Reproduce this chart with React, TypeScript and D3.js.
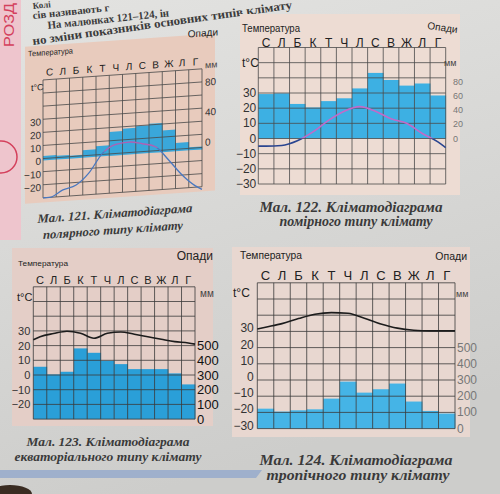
import { useEffect, useRef } from "react";
import * as d3 from "d3";

const months = ["С", "Л", "Б", "К", "Т", "Ч", "Л", "С", "В", "Ж", "Л", "Г"];

// Мал. 121 - polar
const polarTemp = [-30, -25, -22, -13, 1, 7, 8, 6, 3, -8, -20, -29];
const polarTempEnds = [-30, -32];
const polarPrecip = [6, 5, 4, 10, 14, 32, 35, 37, 39, 29, 11, 4];
const polarTempTicks = [30, 20, 10, 0, -10, -20];
const polarPrecipTicks = [0, 40, 80];

// Мал. 122 - temperate
const temperateTemp = [-5, -4.6, -1.5, 4.4, 12, 18, 21, 18, 13, 10, 3.3, -2.2];
const temperateTempEnds = [-5, -6];
const temperatePrecip = [63, 64, 49, 44, 53, 57, 71, 93, 83, 75, 78, 61];
const temperateTempTicks = [30, 20, 10, 0, -10, -20, -30];
const temperatePrecipTicks = [0, 20, 40, 60, 80];

// Мал. 123 - equatorial
const equatorialTemp = [26, 28.2, 29.8, 28.4, 25, 28.4, 29.3, 27.7, 26, 24.3, 22.7, 21.8];
const equatorialTempEnds = [24, 21];
const equatorialPrecip = [356, 304, 322, 481, 451, 397, 374, 340, 340, 340, 311, 236];
const equatorialTempTicks = [30, 20, 10, 0, -10, -20];

// Мал. 124 - tropical
const tropicalTemp = [32.6, 34.8, 37.9, 40.6, 41.6, 41.2, 38.1, 34.6, 32, 30.7, 30.3, 30.3];
const tropicalTempEnds = [31.5, 30.3];
const tropicalPrecip = [123, 105, 113, 119, 185, 290, 222, 243, 278, 167, 109, 93];
const tropicalTempTicks = [30, 20, 10, 0, -10, -20, -30];

const bigPrecipTicks = [0, 100, 200, 300, 400, 500];

const SANS = "Liberation Sans, Arial, sans-serif";
const SERIF = "Liberation Serif, Times New Roman, serif";

const fmt = (v) => (v < 0 ? "\u2212" + Math.abs(v) : String(v));

const label = (g, s, x, y, size, o: any = {}) =>
  g
    .append("text")
    .attr("x", x)
    .attr("y", y)
    .attr("font-family", o.family || SANS)
    .attr("font-size", size)
    .attr("font-weight", o.weight || null)
    .attr("font-style", o.style || null)
    .attr("text-anchor", o.anchor || "start")
    .attr("dominant-baseline", o.baseline || null)
    .attr("fill", o.fill || "#222")
    .attr("transform", o.transform || null)
    .attr("textLength", o.length || null)
    .attr("lengthAdjust", o.length ? "spacingAndGlyphs" : null)
    .text(s);

const drawPanel = (svg, p) => {
  const g = svg.append("g").attr("transform", p.transform || null);

  g.append("rect")
    .attr("x", p.box[0])
    .attr("y", p.box[1])
    .attr("width", p.box[2] - p.box[0])
    .attr("height", p.box[3] - p.box[1])
    .attr("fill", p.boxFill);

  const x = d3.scaleBand().domain(d3.range(12)).range([p.x0, p.x1]);
  const y = d3.scaleLinear().domain([-30, 60]).range([p.yBottom, p.yTop]);
  const yP = d3
    .scaleLinear()
    .domain(p.precipDomain)
    .range([y(p.precipRange[0]), y(p.precipRange[1])]);

  g.selectAll(".bar")
    .data(p.precip)
    .enter()
    .append("rect")
    .attr("x", (d, i) => x(i))
    .attr("width", x.bandwidth() + 0.4)
    .attr("y", (d) => yP(d))
    .attr("height", (d) => yP(0) - yP(d))
    .attr("fill", p.barFill);

  // grid
  g.append("g")
    .selectAll("line")
    .data(d3.range(13))
    .enter()
    .append("line")
    .attr("x1", (i) => p.x0 + i * x.bandwidth())
    .attr("x2", (i) => p.x0 + i * x.bandwidth())
    .attr("y1", p.yTop)
    .attr("y2", p.yBottom)
    .attr("stroke", p.gridColor)
    .attr("stroke-width", 0.8);
  g.append("g")
    .selectAll("line")
    .data(d3.range(-30, 61, 10))
    .enter()
    .append("line")
    .attr("x1", p.x0)
    .attr("x2", p.x1)
    .attr("y1", (d) => y(d))
    .attr("y2", (d) => y(d))
    .attr("stroke", p.gridColor)
    .attr("stroke-width", 0.8);

  // temperature curve
  const xs = [p.x0, ...d3.range(12).map((i) => x(i) + x.bandwidth() / 2), p.x1];
  const ts = [p.tempEnds[0], ...p.temp, p.tempEnds[1]];
  const line = d3
    .line()
    .x((d, i) => xs[i])
    .y((d) => y(d))
    .curve(d3.curveMonotoneX);

  if (p.warmColor) {
    const cut = y(p.warmAbove);
    const defs = g.append("defs");
    defs
      .append("clipPath")
      .attr("id", `warm-${p.id}`)
      .append("rect")
      .attr("x", p.x0 - 10)
      .attr("y", 0)
      .attr("width", p.x1 - p.x0 + 20)
      .attr("height", cut);
    defs
      .append("clipPath")
      .attr("id", `cold-${p.id}`)
      .append("rect")
      .attr("x", p.x0 - 10)
      .attr("y", cut)
      .attr("width", p.x1 - p.x0 + 20)
      .attr("height", 500);
    g.append("path")
      .attr("d", line(ts))
      .attr("fill", "none")
      .attr("stroke", p.warmColor)
      .attr("stroke-width", p.lineWidth)
      .attr("clip-path", `url(#warm-${p.id})`);
    g.append("path")
      .attr("d", line(ts))
      .attr("fill", "none")
      .attr("stroke", p.lineColor)
      .attr("stroke-width", p.lineWidth)
      .attr("clip-path", `url(#cold-${p.id})`);
  } else {
    g.append("path")
      .attr("d", line(ts))
      .attr("fill", "none")
      .attr("stroke", p.lineColor)
      .attr("stroke-width", p.lineWidth);
  }

  // labels
  months.forEach((m, i) =>
    label(g, m, x(i) + x.bandwidth() / 2, p.monthY, p.monthSize, { anchor: "middle" })
  );
  label(g, "Температура", p.tempTitle[0], p.tempTitle[1], p.tempTitle[2], { length: p.tempTitle[3] });
  label(g, "Опади", p.precTitle[0], p.precTitle[1], p.precTitle[2], {
    anchor: "end",
    transform: p.precTitle[3]
      ? `rotate(${p.precTitle[3]},${p.precTitle[0]},${p.precTitle[1]})`
      : null,
  });
  label(g, "t°C", p.unitT[0], p.unitT[1], p.unitT[2]);
  label(g, "мм", p.unitP[0], p.unitP[1], p.unitP[2], { fill: "#444" });

  p.tempTicks.forEach((t) =>
    label(g, fmt(t), p.x0 - p.tickGap, y(t) + p.tickDy, p.tickSize, {
      anchor: "end",
      baseline: "central",
      fill: "#333",
    })
  );
  p.precipTicks.forEach((v) =>
    label(g, String(v), p.pTickX, yP(v) + p.pTickDy, p.pTickSize, {
      baseline: "central",
      fill: p.pTickColor,
    })
  );

  p.caption.forEach((c) =>
    label(g, c[0], c[1], c[2], c[3], {
      family: SERIF,
      weight: "bold",
      style: "italic",
      anchor: "middle",
      fill: "#3a3a3a",
      length: c[4],
    })
  );
};

const App = () => {
  const ref = useRef(null);

  useEffect(() => {
    const svg = d3.select(ref.current);
    svg.selectAll("*").remove();

    const defs = svg.append("defs");
    const grad = defs
      .append("linearGradient")
      .attr("id", "page")
      .attr("x1", 0)
      .attr("y1", 0)
      .attr("x2", 0.3)
      .attr("y2", 1);
    grad.append("stop").attr("offset", 0).attr("stop-color", "#e3e3e1");
    grad.append("stop").attr("offset", 1).attr("stop-color", "#cdcdcb");

    svg.append("rect").attr("width", 500).attr("height", 494).attr("fill", "url(#page)");

    // left section strip
    svg.append("rect").attr("x", 0).attr("y", 0).attr("width", 21).attr("height", 240).attr("fill", "#eec5cd");
    label(svg, "РОЗД", 14, 47, 15, {
      fill: "#d4405c",
      transform: "rotate(-90,14,47)",
      length: 44,
    });
    svg
      .append("circle")
      .attr("cx", 1)
      .attr("cy", 157)
      .attr("r", 16)
      .attr("fill", "none")
      .attr("stroke", "#d4405c")
      .attr("stroke-width", 1.5);

    // page bottom
    svg
      .append("polygon")
      .attr("points", "0,470 262,470 256,478 0,478")
      .attr("fill", "#9fb0cc");
    svg.append("ellipse").attr("cx", 10).attr("cy", 494).attr("rx", 22).attr("ry", 9).attr("fill", "#3a2c22");

    // book text at the top
    const bodyText = [
      ["Колі", 33, 9, 9, 18, -6],
      ["сів називають г", 33, 19, 10.5, 77, -6],
      ["На малюнках 121–124, ін", 48, 29, 11, 122, -6],
      ["но зміни показників основних типів клімату", 33, 45, 12, 262, -8],
    ];
    bodyText.forEach((b) =>
      label(svg, b[0], b[1], b[2], b[3], {
        family: SERIF,
        weight: "bold",
        fill: "#3c3c3c",
        length: b[4],
        transform: `rotate(${b[5]},${b[1]},${b[2]})`,
      })
    );

    drawPanel(svg, {
      id: "polar",
      transform: "translate(122.5,0) skewY(-4) translate(-122.5,0)",
      box: [25, 40, 215, 197],
      boxFill: "#e8cbbd",
      barFill: "#3aa7da",
      gridColor: "#4a4a4a",
      x0: 43,
      x1: 202,
      yTop: 74.4,
      yBottom: 192.3,
      temp: polarTemp,
      tempEnds: polarTempEnds,
      precip: polarPrecip,
      tempTicks: polarTempTicks,
      precipTicks: polarPrecipTicks,
      precipDomain: [0, 80],
      precipRange: [-1.5, 44.3],
      lineColor: "#4a78c0",
      warmColor: "#b060b4",
      warmAbove: 2,
      lineWidth: 1.3,
      monthY: 70.5,
      monthSize: 10,
      tempTitle: [28, 50, 8, 45],
      precTitle: [218, 42, 10, 0],
      unitT: [31, 84.5, 9],
      unitP: [205, 74, 9],
      tickGap: 2,
      tickDy: 2.5,
      tickSize: 10,
      pTickX: 205,
      pTickDy: -7,
      pTickSize: 10,
      pTickColor: "#333",
      caption: [
        ["Мал. 121. Кліматодіаграма", 115, 217, 12.5, 155],
        ["полярного типу клімату", 113, 233.5, 12.5, 140],
      ],
    });

    drawPanel(svg, {
      id: "temperate",
      box: [240, 14, 460, 195],
      boxFill: "#eddcd3",
      barFill: "#3db0e3",
      gridColor: "#4a4a4a",
      x0: 258.3,
      x1: 445.7,
      yTop: 47.5,
      yBottom: 184,
      temp: temperateTemp,
      tempEnds: temperateTempEnds,
      precip: temperatePrecip,
      tempTicks: temperateTempTicks,
      precipTicks: temperatePrecipTicks,
      precipDomain: [0, 80],
      precipRange: [0, 37.2],
      lineColor: "#2a4590",
      warmColor: "#c26ac8",
      warmAbove: 0,
      lineWidth: 1.6,
      monthY: 47,
      monthSize: 12,
      tempTitle: [242, 32, 10.5, 58],
      precTitle: [457, 33, 10, 8],
      unitT: [242, 67, 12],
      unitP: [444, 66, 9],
      tickGap: 2,
      tickDy: 0,
      tickSize: 12,
      pTickX: 453,
      pTickDy: 0,
      pTickSize: 9,
      pTickColor: "#777",
      caption: [
        ["Мал. 122. Кліматодіаграма", 351, 212, 14, 183],
        ["помірного типу клімату", 356, 226, 14, 153],
      ],
    });

    drawPanel(svg, {
      id: "equatorial",
      box: [12, 248, 213, 426],
      boxFill: "#e4cec7",
      barFill: "#2a9fd8",
      gridColor: "#3a3a3a",
      x0: 33.3,
      x1: 195,
      yTop: 286.8,
      yBottom: 419.1,
      temp: equatorialTemp,
      tempEnds: equatorialTempEnds,
      precip: equatorialPrecip,
      tempTicks: equatorialTempTicks,
      precipTicks: bigPrecipTicks,
      precipDomain: [0, 600],
      precipRange: [-30, 30],
      lineColor: "#1c1c1c",
      lineWidth: 1.6,
      monthY: 284,
      monthSize: 11,
      tempTitle: [18, 265.5, 8, 50],
      precTitle: [213, 260, 12, 0],
      unitT: [17, 301, 11],
      unitP: [200, 297, 10],
      tickGap: 3,
      tickDy: 0,
      tickSize: 11,
      pTickX: 197,
      pTickDy: 0,
      pTickSize: 13,
      pTickColor: "#111",
      caption: [
        ["Мал. 123. Кліматодіаграма", 108, 446, 12.5, 163],
        ["екваторіального типу клімату", 108, 461, 12.5, 187],
      ],
    });

    drawPanel(svg, {
      id: "tropical",
      box: [232, 247, 470, 437],
      boxFill: "#e8d7d0",
      barFill: "#45b4e6",
      gridColor: "#3a3a3a",
      x0: 257.3,
      x1: 455,
      yTop: 282.8,
      yBottom: 428.6,
      temp: tropicalTemp,
      tempEnds: tropicalTempEnds,
      precip: tropicalPrecip,
      tempTicks: tropicalTempTicks,
      precipTicks: bigPrecipTicks,
      precipDomain: [0, 600],
      precipRange: [-30, 30],
      lineColor: "#1c1c1c",
      lineWidth: 1.6,
      monthY: 279.5,
      monthSize: 13,
      tempTitle: [240, 259, 11, 62],
      precTitle: [467, 260, 10.5, 0],
      unitT: [233, 297, 12],
      unitP: [456, 297, 9],
      tickGap: 3.5,
      tickDy: -3,
      tickSize: 12,
      pTickX: 457,
      pTickDy: 0,
      pTickSize: 12,
      pTickColor: "#777",
      caption: [
        ["Мал. 124. Кліматодіаграма", 356, 465, 15, 193],
        ["тропічного типу клімату", 358, 480, 15, 183],
      ],
    });
  }, []);

  return (
    <svg
      ref={ref}
      width={500}
      height={494}
      style={{ position: "absolute", left: 0, top: 0 }}
    ></svg>
  );
};

export default App;
